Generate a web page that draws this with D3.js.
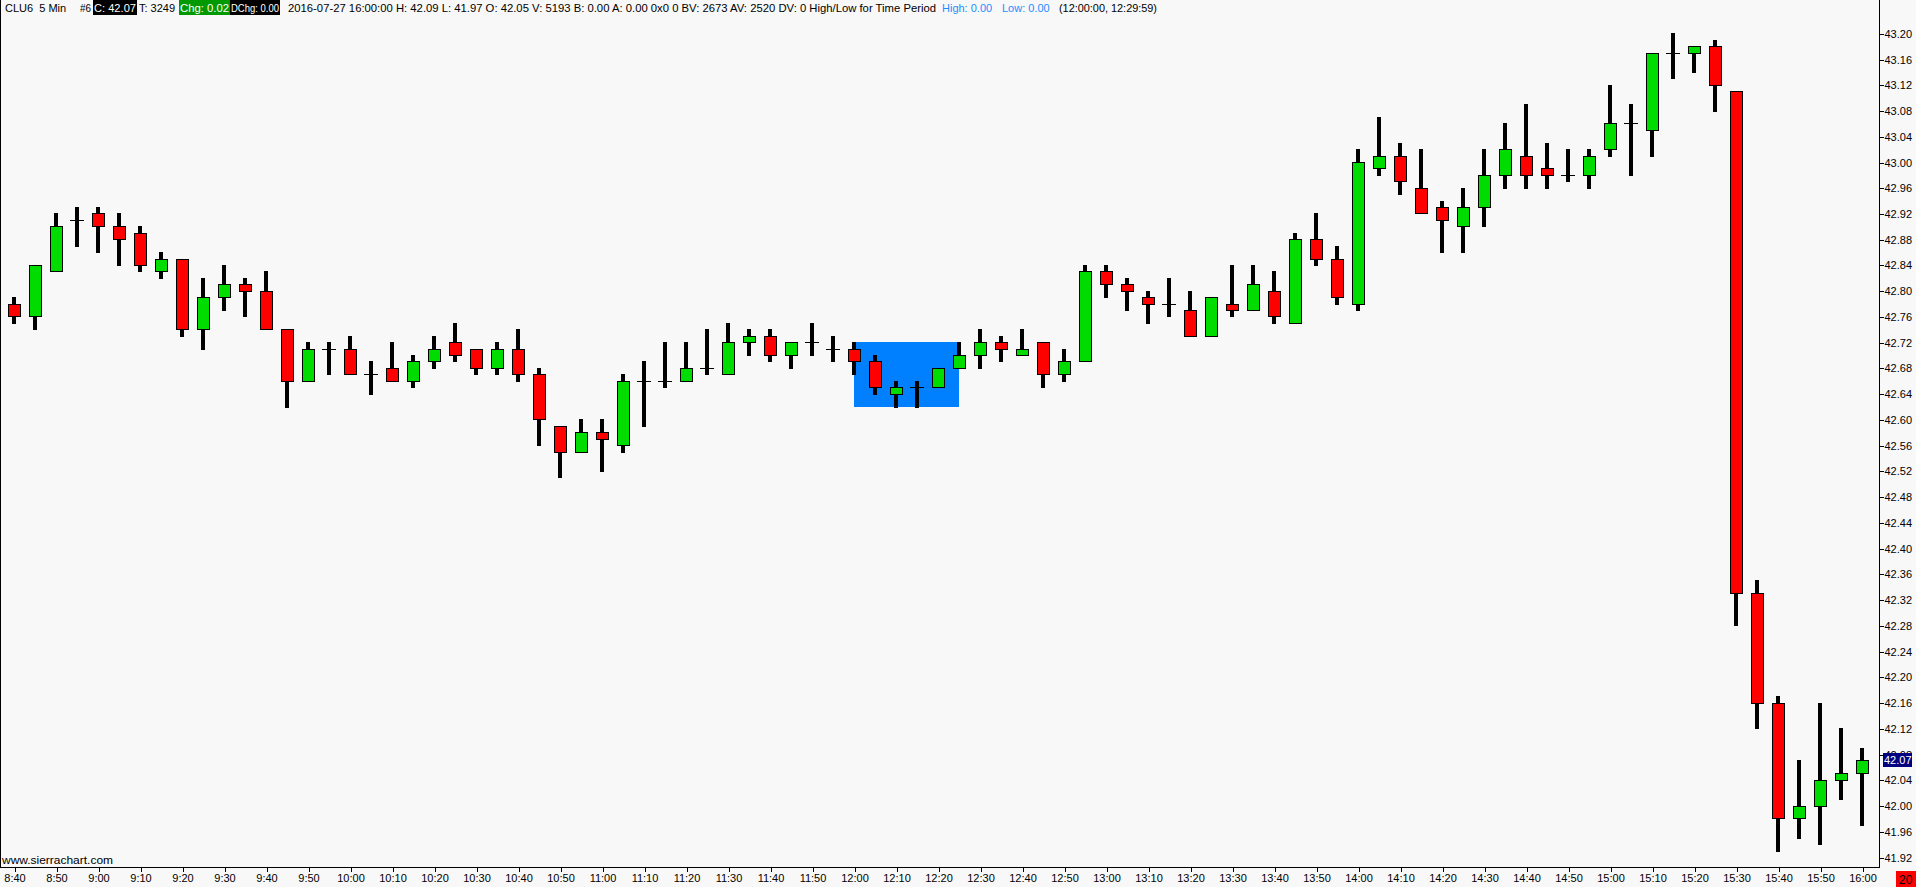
<!DOCTYPE html>
<html><head><meta charset="utf-8">
<script src="https://cdn.jsdelivr.net/npm/d3@7"></script>
<style>
html,body{margin:0;padding:0;background:#f8f8f8;overflow:hidden}
svg{display:block;font-family:"Liberation Sans",Arial,sans-serif}
</style></head><body>
<svg id="c" width="1916" height="887"></svg>
<script>
const times = ["8:40","8:45","8:50","8:55","9:00","9:05","9:10","9:15","9:20","9:25","9:30","9:35","9:40","9:45","9:50","9:55",
"10:00","10:05","10:10","10:15","10:20","10:25","10:30","10:35","10:40","10:45","10:50","10:55",
"11:00","11:05","11:10","11:15","11:20","11:25","11:30","11:35","11:40","11:45","11:50","11:55",
"12:00","12:05","12:10","12:15","12:20","12:25","12:30","12:35","12:40","12:45","12:50","12:55",
"13:00","13:05","13:10","13:15","13:20","13:25","13:30","13:35","13:40","13:45","13:50","13:55",
"14:00","14:05","14:10","14:15","14:20","14:25","14:30","14:35","14:40","14:45","14:50","14:55",
"15:00","15:05","15:10","15:15","15:20","15:25","15:30","15:35","15:40","15:45","15:50","15:55","16:00"];
const opens = [42.78,42.76,42.83,42.91,42.92,42.90,42.89,42.83,42.85,42.74,
42.79,42.81,42.80,42.74,42.66,42.71,42.71,42.67,42.68,42.66,
42.69,42.72,42.71,42.68,42.71,42.67,42.59,42.55,42.58,42.56,
42.66,42.66,42.66,42.68,42.67,42.72,42.73,42.70,42.72,42.71,
42.71,42.69,42.64,42.65,42.65,42.68,42.70,42.72,42.70,42.72,
42.67,42.69,42.83,42.81,42.79,42.78,42.77,42.73,42.78,42.77,
42.80,42.75,42.88,42.85,42.78,42.99,43.01,42.96,42.93,42.90,
42.93,42.98,43.01,42.99,42.98,42.98,43.02,43.06,43.05,43.17,
43.17,43.18,43.11,42.33,42.16,41.98,42.00,42.04,42.05];
const highs = [42.79,42.84,42.92,42.93,42.93,42.92,42.90,42.86,42.85,42.82,
42.84,42.82,42.83,42.74,42.72,42.72,42.73,42.69,42.72,42.70,
42.73,42.75,42.71,42.72,42.74,42.68,42.59,42.60,42.60,42.67,
42.69,42.72,42.72,42.74,42.75,42.74,42.74,42.72,42.75,42.73,
42.72,42.70,42.66,42.66,42.68,42.72,42.74,42.73,42.74,42.72,
42.71,42.84,42.84,42.82,42.80,42.82,42.80,42.79,42.84,42.84,
42.83,42.89,42.92,42.87,43.02,43.07,43.03,43.02,42.94,42.96,
43.02,43.06,43.09,43.03,43.02,43.02,43.12,43.09,43.17,43.20,
43.18,43.19,43.11,42.35,42.17,42.07,42.16,42.12,42.09];
const lows = [42.75,42.74,42.83,42.87,42.86,42.84,42.83,42.82,42.73,42.71,
42.77,42.76,42.74,42.62,42.66,42.67,42.67,42.64,42.66,42.65,
42.68,42.69,42.67,42.67,42.66,42.56,42.51,42.55,42.52,42.55,
42.59,42.65,42.66,42.67,42.67,42.70,42.69,42.68,42.70,42.69,
42.67,42.64,42.62,42.62,42.65,42.68,42.68,42.69,42.70,42.65,
42.66,42.69,42.79,42.77,42.75,42.76,42.73,42.73,42.76,42.77,
42.75,42.75,42.84,42.78,42.77,42.98,42.95,42.92,42.86,42.86,
42.90,42.96,42.96,42.96,42.97,42.96,43.01,42.98,43.01,43.13,
43.14,43.08,42.28,42.12,41.93,41.95,41.94,42.01,41.97];
const closes = [42.76,42.84,42.90,42.91,42.90,42.88,42.84,42.85,42.74,42.79,
42.81,42.80,42.74,42.66,42.71,42.71,42.67,42.67,42.66,42.69,
42.71,42.70,42.68,42.71,42.67,42.60,42.55,42.58,42.57,42.66,
42.66,42.66,42.68,42.68,42.72,42.73,42.70,42.72,42.72,42.71,
42.69,42.65,42.65,42.65,42.68,42.70,42.72,42.71,42.71,42.67,
42.69,42.83,42.81,42.80,42.78,42.78,42.73,42.79,42.77,42.81,
42.76,42.88,42.85,42.79,43.00,43.01,42.97,42.92,42.91,42.93,
42.98,43.02,42.98,42.98,42.98,43.01,43.06,43.06,43.17,43.17,
43.18,43.12,42.33,42.16,41.98,42.00,42.04,42.05,42.07];
const timeTicks = ["8:40","8:50","9:00","9:10","9:20","9:30","9:40","9:50","10:00","10:10","10:20","10:30","10:40","10:50",
"11:00","11:10","11:20","11:30","11:40","11:50","12:00","12:10","12:20","12:30","12:40","12:50","13:00","13:10","13:20",
"13:30","13:40","13:50","14:00","14:10","14:20","14:30","14:40","14:50","15:00","15:10","15:20","15:30","15:40","15:50","16:00"];
const priceTicks = [43.20,43.16,43.12,43.08,43.04,43.00,42.96,42.92,42.88,42.84,42.80,42.76,42.72,42.68,42.64,42.60,42.56,
42.52,42.48,42.44,42.40,42.36,42.32,42.28,42.24,42.20,42.16,42.12,42.08,42.04,42.00,41.96,41.92];
const periodRange = ["12:00","12:25"];
const headerParts = [
  {t:"CLU6  5 Min", x:5, fill:"#000"},
  {t:"#6", x:80, len:11, fill:"#000"},
  {t:"C: 42.07", x:93, w:44, fill:"#fff", bg:"#000"},
  {t:"T: 3249", x:139, fill:"#000"},
  {t:"Chg: 0.02", x:179, w:51, fill:"#fff", bg:"#009a00"},
  {t:"DChg: 0.00", x:230, w:50, fill:"#fff", bg:"#000"},
  {t:"2016-07-27 16:00:00 H: 42.09 L: 41.97 O: 42.05 V: 5193 B: 0.00 A: 0.00 0x0 0 BV: 2673 AV: 2520 DV: 0 High/Low for Time Period", x:288, len:648, fill:"#000"},
  {t:"High: 0.00", x:942, fill:"#1e8cff"},
  {t:"Low: 0.00", x:1002, fill:"#1e8cff"},
  {t:"(12:00:00, 12:29:59)", x:1059, len:98, fill:"#000"}
];

const W = 1916, H = 887, axisX = 1879, axisY = 867;
const svg = d3.select("#c");
svg.append("rect").attr("width",W).attr("height",H).attr("fill","#f8f8f8");

const x = d3.scalePoint().domain(times).range([14, 1862]);
const y = d3.scaleLinear().domain([41.92, 43.20]).range([857, 33.3]);
const py = v => Math.round(y(v)) + 0.5;

const bars = times.map((t,i)=>({t, o:opens[i], h:highs[i], l:lows[i], c:closes[i]}));

// high/low for time period rectangle
const i0 = times.indexOf(periodRange[0]), i1 = times.indexOf(periodRange[1]);
const pb = bars.slice(i0, i1+1);
const pHi = d3.max(pb, d=>d.h), pLo = d3.min(pb, d=>d.l);
svg.append("rect").attr("x", x(periodRange[0])).attr("width", x(periodRange[1]) - x(periodRange[0]))
  .attr("y", Math.round(y(pHi))).attr("height", Math.round(y(pLo)) - Math.round(y(pHi)))
  .attr("fill","#0080ff");

const g = svg.append("g").attr("shape-rendering","crispEdges");
g.selectAll(".wick").data(bars).join("rect").attr("class","wick")
  .attr("x", d=>x(d.t)-2).attr("width",4)
  .attr("y", d=>Math.round(y(d.h))).attr("height", d=>Math.max(1, Math.round(y(d.l))-Math.round(y(d.h))+1))
  .attr("fill","#000");
g.selectAll(".body").data(bars.filter(d=>d.o!==d.c)).join("rect").attr("class","body")
  .attr("x", d=>x(d.t)-5.5).attr("width",12)
  .attr("y", d=>py(Math.max(d.o,d.c))).attr("height", d=>py(Math.min(d.o,d.c))-py(Math.max(d.o,d.c)))
  .attr("fill", d=>d.c>d.o ? "#00dc00" : "#ff0000").attr("stroke","#000").attr("stroke-width",1);
g.selectAll(".doji").data(bars.filter(d=>d.o===d.c)).join("line").attr("class","doji")
  .attr("x1", d=>x(d.t)-7).attr("x2", d=>x(d.t)+7)
  .attr("y1", d=>py(d.c)).attr("y2", d=>py(d.c))
  .attr("stroke","#000").attr("stroke-width",1);

svg.append("line").attr("x1",0.5).attr("x2",0.5).attr("y1",0).attr("y2",axisY).attr("stroke","#000").attr("shape-rendering","crispEdges");
svg.append("line").attr("x1",axisX+0.5).attr("x2",axisX+0.5).attr("y1",0).attr("y2",axisY+1).attr("stroke","#000").attr("shape-rendering","crispEdges");
svg.append("line").attr("x1",0).attr("x2",axisX+1).attr("y1",axisY+0.5).attr("y2",axisY+0.5).attr("stroke","#000").attr("shape-rendering","crispEdges");

const ya = svg.append("g").attr("transform",`translate(${axisX+0.5},0.5)`)
  .call(d3.axisRight(y).tickValues(priceTicks).tickSize(4).tickPadding(1).tickFormat(d3.format(".2f")));
ya.select(".domain").remove();
ya.selectAll("line").attr("shape-rendering","crispEdges");
ya.selectAll("text").attr("font-size",11).attr("font-family","Liberation Sans, Arial, sans-serif").attr("fill","#000");

const xa = svg.append("g").attr("transform",`translate(0.5,${axisY+0.5})`)
  .call(d3.axisBottom(x).tickValues(timeTicks).tickSize(4).tickPadding(3));
xa.select(".domain").remove();
xa.selectAll("line").attr("shape-rendering","crispEdges");
xa.selectAll("text").attr("font-size",11).attr("font-family","Liberation Sans, Arial, sans-serif").attr("fill","#000");

const last = bars[bars.length-1].c;
svg.append("rect").attr("x",1883).attr("y",Math.round(y(last))-7).attr("width",29).attr("height",14).attr("fill","#000080");
svg.append("text").attr("x",1884).attr("y",Math.round(y(last))+4).attr("font-size",11).attr("fill","#fff").text(d3.format(".2f")(last));

svg.append("rect").attr("x",1896).attr("y",871).attr("width",20).attr("height",16).attr("fill","#ff0000");
svg.append("text").attr("x",1899).attr("y",884).attr("font-size",12).attr("fill","#000").text("20");

svg.append("text").attr("x",2).attr("y",864).attr("font-size",11).attr("fill","#000")
  .attr("textLength",111).attr("lengthAdjust","spacingAndGlyphs").text("www.sierrachart.com");

const hg = svg.append("g");
headerParts.forEach(p=>{
  if (p.bg) hg.append("rect").attr("x",p.x).attr("y",0).attr("width",p.w).attr("height",15).attr("fill",p.bg);
  const t = hg.append("text").attr("x", p.bg ? p.x+1 : p.x).attr("y",12).attr("font-size",11).attr("fill",p.fill).attr("xml:space","preserve").text(p.t);
  if (p.len) t.attr("textLength",p.len).attr("lengthAdjust","spacingAndGlyphs");
  if (p.bg) t.attr("textLength",p.w-2).attr("lengthAdjust","spacingAndGlyphs");
});
</script>
</body></html>
